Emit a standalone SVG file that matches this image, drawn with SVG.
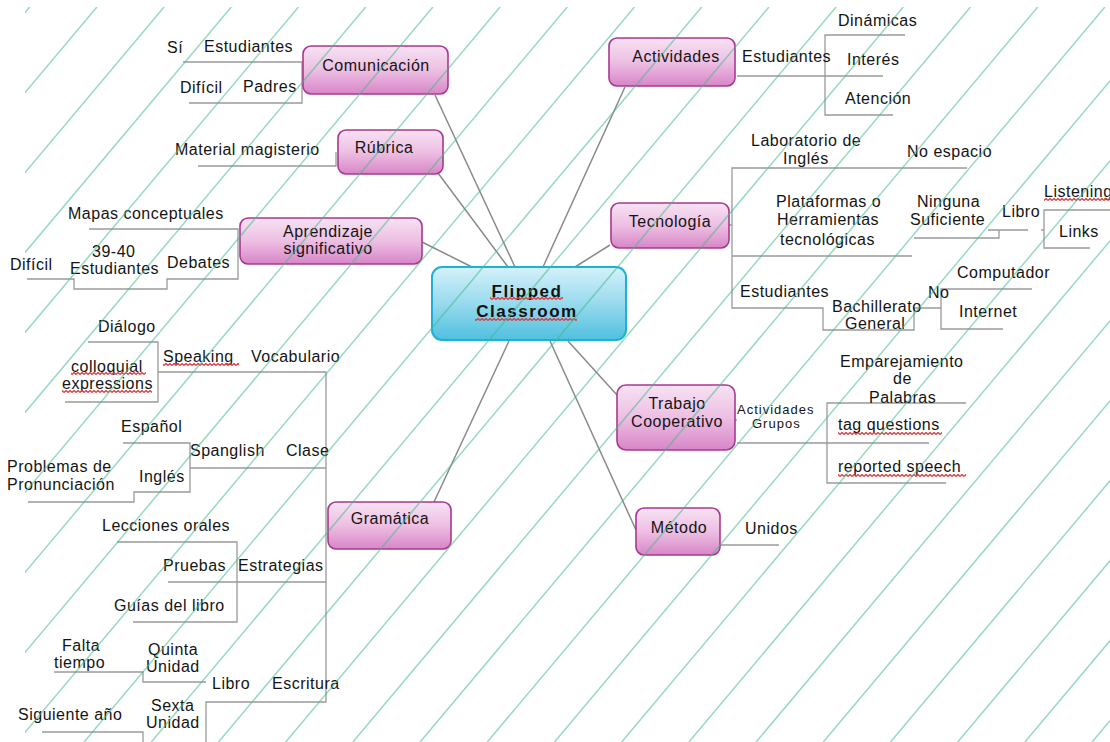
<svg xmlns="http://www.w3.org/2000/svg" width="1110" height="742" viewBox="0 0 1110 742">
<style>
.t{font-family:"Liberation Sans",Arial,sans-serif;font-size:16px;letter-spacing:0.5px;fill:#141414}
.n{font-family:"Liberation Sans",Arial,sans-serif;font-size:16px;letter-spacing:0.5px;fill:#141414;text-anchor:middle}
.c{font-family:"Liberation Sans",Arial,sans-serif;font-size:17px;font-weight:bold;letter-spacing:1.5px;fill:#111;text-anchor:middle}
.s{font-family:"Liberation Sans",Arial,sans-serif;font-size:13px;letter-spacing:1px;fill:#141414}
.box{fill:url(#pink);stroke:#a8388f;stroke-width:1.6}
.cbox{fill:url(#cyan);stroke:#1fb0d9;stroke-width:2}
.m{stroke:#8a8a8a;stroke-width:1.5;fill:none}
.b{stroke:#9a9a9a;stroke-width:1.3;fill:none}
.bgl{stroke:#43b98a;stroke-width:1.5;fill:none;opacity:.55}
.sq{fill:url(#sq)}
</style>
<defs>
<linearGradient id="pink" x1="0" y1="0" x2="0" y2="1">
<stop offset="0" stop-color="#f7e2f3"/><stop offset=".5" stop-color="#edbfe3"/><stop offset="1" stop-color="#d886c7"/>
</linearGradient>
<linearGradient id="cyan" x1="0" y1="0" x2="0" y2="1">
<stop offset="0" stop-color="#d5f1fa"/><stop offset=".5" stop-color="#98daee"/><stop offset="1" stop-color="#4fc0df"/>
</linearGradient>
<pattern id="sq" width="4" height="3" patternUnits="userSpaceOnUse">
<path d="M0,2.5 L2,0.5 L4,2.5" stroke="#e0393e" stroke-width="1.3" fill="none"/>
</pattern>
<clipPath id="bgclip"><rect x="25" y="7" width="1085" height="735"/></clipPath>
</defs>
<rect width="1110" height="742" fill="#fff"/>

<g id="connectors">
<path class="m" d="M435,95 L515,267 M438,173 L508,267 M422,242 L472,267 M625,87 L543,267 M610,245 L575,267 M509,341 L434,502 M550,341 L636,530 M568,341 L617,395"/>
<path class="b" d="M183,62 H302 V103 H189"/>
<path class="b" d="M198,166 H336 V152"/>
<path class="b" d="M89,229 H238 V279 H167 V289 H74 V279 H27"/>
<path class="b" d="M737,76 H883 M905,35 H825 V115 H893"/>
<path class="b" d="M729,225 H732 M967,168 H732 V308 H823 V330 H914 V308 H941 M732,256 H912 M1032,289 H941 V329 H1003 M914,238 H999 V230 M988,230 H1028 M1041,230 H1044 M1110,210 H1044 V248 H1090"/>
<path class="b" d="M735,420 H737 M737,443 H929 M966,403 H827 V483 H946"/>
<path class="b" d="M720,545 H779"/>
<path class="b" d="M158,372 H326 V702 H206 V745 M190,468 H326 M168,582 H326 M88,342 H158 V402 H65 M123,443 H190 V492 H134 V502 H28 M117,542 H237 V622 H133 M54,672 H143 V682 H206 M42,732 H143 V745"/>
</g>

<g id="flipped-classroom">
<rect class="cbox" x="432" y="267" width="194" height="73" rx="10"/>
<text class="c" x="527" y="297">Flipped</text>
<text class="c" x="527" y="317">Classroom</text>
<rect class="sq" x="490" y="297" width="73" height="3"/>
<rect class="sq" x="475" y="318" width="102" height="3"/>
</g>

<g id="comunicacion">
<rect class="box" x="303" y="46" width="145" height="48" rx="8"/>
<text class="n" x="376" y="71">Comunicación</text>
<text class="t" x="167" y="53">Sí</text>
<text class="t" x="204" y="52">Estudiantes</text>
<text class="t" x="180" y="93">Difícil</text>
<text class="t" x="243" y="92">Padres</text>
</g>

<g id="rubrica">
<rect class="box" x="338" y="130" width="105" height="44" rx="8"/>
<text class="n" x="384" y="153">Rúbrica</text>
<text class="t" x="175" y="155">Material magisterio</text>
</g>

<g id="aprendizaje">
<rect class="box" x="240" y="218" width="182" height="46" rx="8"/>
<text class="n" x="328" y="237">Aprendizaje</text>
<text class="n" x="328" y="254">significativo</text>
<text class="t" x="68" y="219">Mapas conceptuales</text>
<text class="t" x="92" y="257">39-40</text>
<text class="t" x="70" y="274">Estudiantes</text>
<text class="t" x="167" y="268">Debates</text>
<text class="t" x="10" y="270">Difícil</text>
</g>

<g id="actividades">
<rect class="box" x="609" y="38" width="126" height="48" rx="8"/>
<text class="n" x="676" y="62">Actividades</text>
<text class="t" x="742" y="62">Estudiantes</text>
<text class="t" x="838" y="26">Dinámicas</text>
<text class="t" x="847" y="65">Interés</text>
<text class="t" x="845" y="104">Atención</text>
</g>

<g id="tecnologia">
<rect class="box" x="611" y="203" width="118" height="45" rx="8"/>
<text class="n" x="670" y="227">Tecnología</text>
<text class="t" x="751" y="146">Laboratorio de</text>
<text class="t" x="783" y="164">Inglés</text>
<text class="t" x="907" y="157">No espacio</text>
<text class="t" x="776" y="207">Plataformas o</text>
<text class="t" x="777" y="225">Herramientas</text>
<text class="t" x="780" y="245">tecnológicas</text>
<text class="t" x="917" y="207">Ninguna</text>
<text class="t" x="910" y="225">Suficiente</text>
<text class="t" x="1002" y="217">Libro</text>
<text class="t" x="1044" y="197">Listening</text>
<rect class="sq" x="1044" y="198" width="66" height="3"/>
<text class="t" x="1059" y="237">Links</text>
<text class="t" x="740" y="297">Estudiantes</text>
<text class="t" x="928" y="298">No</text>
<text class="t" x="832" y="312">Bachillerato</text>
<text class="t" x="845" y="329">General</text>
<text class="t" x="957" y="278">Computador</text>
<text class="t" x="959" y="317">Internet</text>
</g>

<g id="trabajo-cooperativo">
<rect class="box" x="617" y="385" width="118" height="65" rx="9"/>
<text class="n" x="677" y="409">Trabajo</text>
<text class="n" x="677" y="427">Cooperativo</text>
<text class="s" x="737" y="414">Actividades</text>
<text class="s" x="752" y="428">Grupos</text>
<text class="t" x="840" y="367">Emparejamiento</text>
<text class="t" x="893" y="384">de</text>
<text class="t" x="869" y="403">Palabras</text>
<text class="t" x="838" y="430">tag questions</text>
<rect class="sq" x="838" y="432" width="104" height="3"/>
<text class="t" x="838" y="472">reported speech</text>
<rect class="sq" x="838" y="474" width="128" height="3"/>
</g>

<g id="metodo">
<rect class="box" x="636" y="508" width="84" height="47" rx="8"/>
<text class="n" x="679" y="533">Método</text>
<text class="t" x="745" y="534">Unidos</text>
</g>

<g id="gramatica">
<rect class="box" x="328" y="502" width="123" height="47" rx="8"/>
<text class="n" x="390" y="524">Gramática</text>
<text class="t" x="98" y="332">Diálogo</text>
<text class="t" x="71" y="372">colloquial</text>
<rect class="sq" x="71" y="372" width="75" height="3"/>
<text class="t" x="62" y="389">expressions</text>
<rect class="sq" x="62" y="390" width="90" height="3"/>
<text class="t" x="163" y="362">Speaking</text>
<rect class="sq" x="163" y="363" width="76" height="3"/>
<text class="t" x="251" y="362">Vocabulario</text>
<text class="t" x="121" y="432">Español</text>
<text class="t" x="190" y="456">Spanglish</text>
<text class="t" x="286" y="456">Clase</text>
<text class="t" x="7" y="472">Problemas de</text>
<text class="t" x="7" y="490">Pronunciación</text>
<text class="t" x="139" y="482">Inglés</text>
<text class="t" x="102" y="531">Lecciones orales</text>
<text class="t" x="163" y="571">Pruebas</text>
<text class="t" x="238" y="571">Estrategias</text>
<text class="t" x="114" y="611">Guías del libro</text>
<text class="t" x="62" y="651">Falta</text>
<text class="t" x="54" y="668">tiempo</text>
<text class="t" x="148" y="655">Quinta</text>
<text class="t" x="146" y="672">Unidad</text>
<text class="t" x="212" y="689">Libro</text>
<text class="t" x="272" y="689">Escritura</text>
<text class="t" x="151" y="711">Sexta</text>
<text class="t" x="146" y="728">Unidad</text>
<text class="t" x="18" y="720">Siguiente año</text>
</g>

<g id="background-lines" clip-path="url(#bgclip)">
<path class="bgl" d="M29.7,7L-587.9,742M96.9,7L-520.7,742M164.1,7L-453.5,742M231.3,7L-386.3,742M298.5,7L-319.1,742M365.7,7L-251.9,742M432.9,7L-184.7,742M500.1,7L-117.5,742M567.3,7L-50.3,742M634.5,7L16.9,742M701.7,7L84.1,742M768.9,7L151.3,742M836.1,7L218.5,742M903.3,7L285.7,742M970.5,7L352.9,742M1037.7,7L420.1,742M1104.9,7L487.3,742M1172.1,7L554.5,742M1239.3,7L621.7,742M1306.5,7L688.9,742M1373.7,7L756.1,742M1440.9,7L823.3,742M1508.1,7L890.5,742M1575.3,7L957.7,742M1642.5,7L1024.9,742M1709.7,7L1092.1,742M1776.9,7L1159.3,742"/>
</g>
</svg>
